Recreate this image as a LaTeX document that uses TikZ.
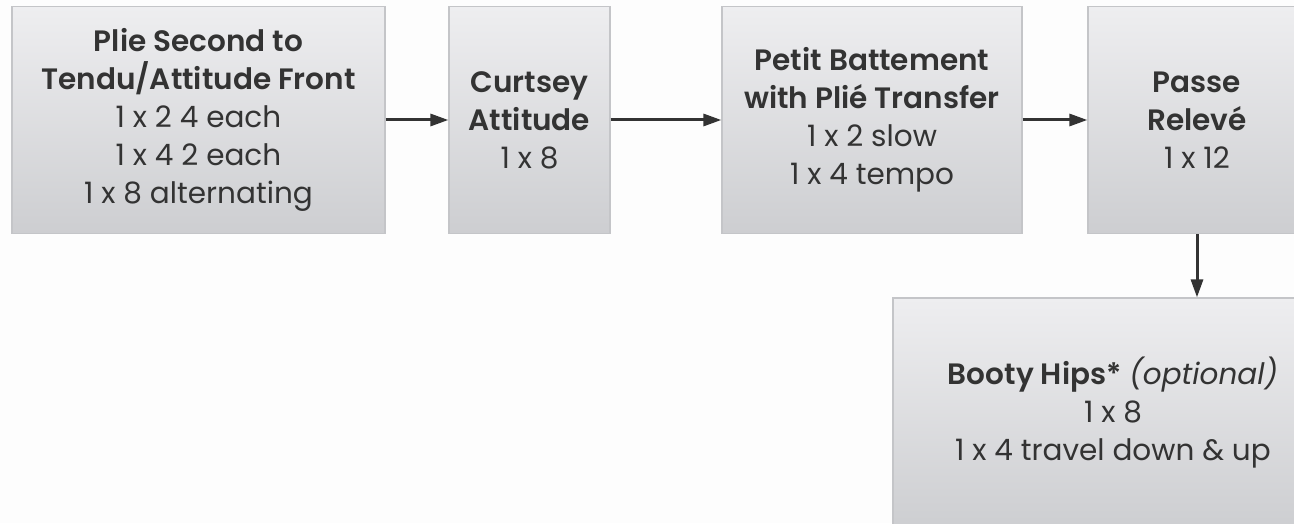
\documentclass[tikz,border=0pt]{standalone}
\usepackage{fontspec}
\setmainfont{Poppins}[BoldFont={Poppins SemiBold}]
\usetikzlibrary{arrows.meta}
\definecolor{boxtop}{HTML}{EEEEF0}
\definecolor{boxbot}{HTML}{CDCED1}
\definecolor{boxline}{HTML}{C4C5C8}
\definecolor{txt}{HTML}{333333}
\definecolor{arr}{HTML}{333333}
\definecolor{bg}{HTML}{FDFDFD}
\begin{document}
\begin{tikzpicture}[x=1pt,y=1pt,
  stepbox/.style={draw=boxline,line width=1.2pt,top color=boxtop,bottom color=boxbot,
    minimum height=227pt,align=center,text=txt,inner sep=0pt,
    font=\fontsize{29.5}{38}\selectfont},
  flow/.style={draw=arr,line width=3pt,-{Triangle[length=18pt,width=12pt]}}]
\useasboundingbox (0,0) rectangle (1294,523);
\fill[bg] (0,0) rectangle (1294,523);
\begin{scope}
\clip (0,0) rectangle (1294,523);
\node[stepbox,minimum width=373pt] (a) at (198.5,403) {\textbf{Plie Second to}\\\textbf{Tendu/Attitude Front}\\1 x 2 4 each\\1 x 4 2 each\\1 x 8 alternating};
\node[stepbox,minimum width=161pt] (b) at (529.5,403) {\textbf{Curtsey}\\\textbf{Attitude}\\1 x 8};
\node[stepbox,minimum width=300pt] (c) at (872,403) {\textbf{Petit Battement}\\\textbf{with Plié Transfer}\\1 x 2 slow\\1 x 4 tempo};
\node[stepbox,minimum width=218pt] (d) at (1197,403) {\textbf{Passe}\\\textbf{Relevé}\\1 x 12};
\node[stepbox,minimum width=440pt,minimum height=230pt] (e) at (1113,110) {\textbf{Booty Hips*} \textit{(optional)}\\1 x 8\\1 x 4 travel down \& up};
\draw[flow] (a.east) -- (b.west);
\draw[flow] (b.east) -- (c.west);
\draw[flow] (c.east) -- (d.west);
\draw[flow] (d.south) -- (d.south |- e.north);
\end{scope}
\end{tikzpicture}
\end{document}
